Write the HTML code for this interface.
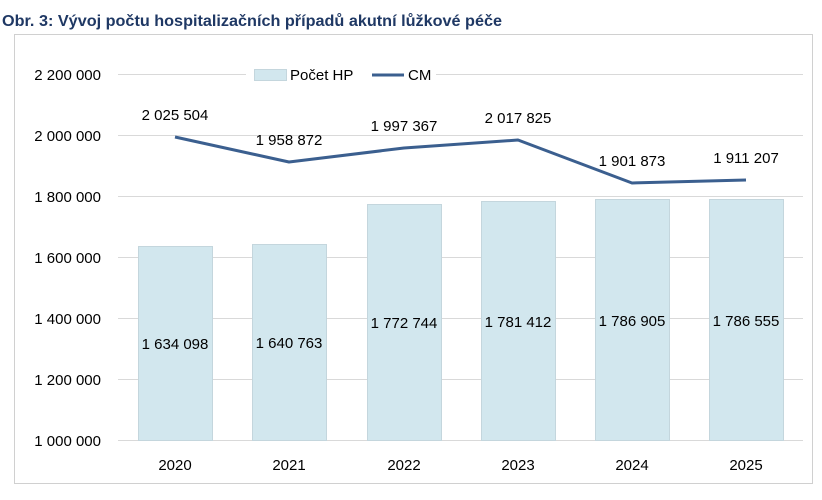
<!DOCTYPE html>
<html><head><meta charset="utf-8"><style>
body{margin:0;background:#fff;width:822px;height:495px;overflow:hidden}
svg text{font-family:"Liberation Sans",sans-serif}
</style></head><body>
<svg width="822" height="495" xmlns="http://www.w3.org/2000/svg">
<text x="2" y="26" font-size="16" font-weight="bold" fill="#1F3864" textLength="500" lengthAdjust="spacingAndGlyphs">Obr. 3: Vývoj počtu hospitalizačních případů akutní lůžkové péče</text>
<rect x="14.5" y="34.5" width="798" height="449" fill="#fff" stroke="#d0d0d0"/>
<g stroke="#d9d9d9" stroke-width="1">
<line x1="118" x2="803" y1="74.5" y2="74.5"/>
<line x1="118" x2="803" y1="135.5" y2="135.5"/>
<line x1="118" x2="803" y1="196.5" y2="196.5"/>
<line x1="118" x2="803" y1="257.5" y2="257.5"/>
<line x1="118" x2="803" y1="318.5" y2="318.5"/>
<line x1="118" x2="803" y1="379.5" y2="379.5"/>
<line x1="118" x2="803" y1="440.5" y2="440.5"/>
</g>
<rect x="246" y="64" width="190" height="22" fill="#fff"/>
<g font-size="15" fill="#000" text-anchor="end">
<text x="101" y="80">2 200 000</text>
<text x="101" y="141">2 000 000</text>
<text x="101" y="202">1 800 000</text>
<text x="101" y="263">1 600 000</text>
<text x="101" y="324">1 400 000</text>
<text x="101" y="385">1 200 000</text>
<text x="101" y="446">1 000 000</text>
</g>
<g fill="#D2E7EE" stroke="#c4d6dd">
<rect x="138.5" y="246.5" width="74" height="194"/>
<rect x="252.5" y="244.5" width="74" height="196"/>
<rect x="367.5" y="204.5" width="74" height="236"/>
<rect x="481.5" y="201.5" width="74" height="239"/>
<rect x="595.5" y="199.5" width="74" height="241"/>
<rect x="709.5" y="199.5" width="74" height="241"/>
</g>
<g font-size="15" text-anchor="middle" fill="#000">
<text x="175" y="349">1 634 098</text>
<text x="289" y="348">1 640 763</text>
<text x="404" y="328">1 772 744</text>
<text x="518" y="327">1 781 412</text>
<text x="632" y="326">1 786 905</text>
<text x="746" y="326">1 786 555</text>
<text x="175" y="120">2 025 504</text>
<text x="289" y="145">1 958 872</text>
<text x="404" y="131">1 997 367</text>
<text x="518" y="123">2 017 825</text>
<text x="632" y="166">1 901 873</text>
<text x="746" y="163">1 911 207</text>
<text x="175" y="470">2020</text>
<text x="289" y="470">2021</text>
<text x="404" y="470">2022</text>
<text x="518" y="470">2023</text>
<text x="632" y="470">2024</text>
<text x="746" y="470">2025</text>
</g>
<polyline points="175,137 289,162 404,148 518,140 632,183 746,180" fill="none" stroke="#3B5F8F" stroke-width="3" stroke-linejoin="round"/>
<rect x="254.5" y="69.5" width="32" height="11" fill="#D2E7EE" stroke="#c4d6dd"/>
<text x="290" y="80" font-size="15">Počet HP</text>
<line x1="372" x2="404" y1="75" y2="75" stroke="#3B5F8F" stroke-width="3"/>
<text x="408" y="80" font-size="15">CM</text>
</svg>
</body></html>
